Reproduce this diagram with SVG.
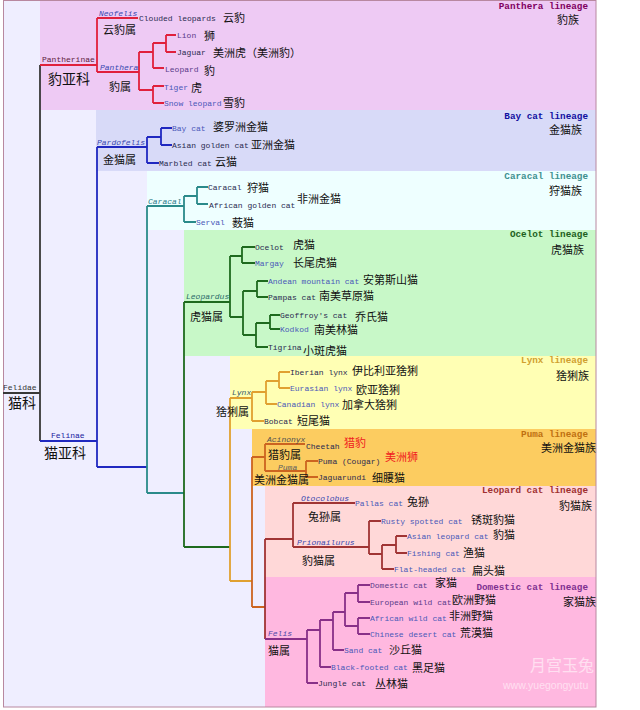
<svg xmlns="http://www.w3.org/2000/svg" width="640" height="710" viewBox="0 0 640 710">
<style>
.sp{font-family:"Liberation Mono",monospace;font-size:8px;fill:#2a2a50}
.b{fill:#4a58b8}
.pu{fill:#5a3a8a}
.gen{font-family:"Liberation Mono",monospace;font-size:8px;font-style:italic;fill:#3848b0}
.zh{font-family:"Noto Sans CJK SC",sans-serif;font-size:11px;fill:#111}
.zhL{font-family:"Noto Sans CJK SC",sans-serif;font-size:14px;fill:#111}
.red{fill:#f02020}
.lin{font-family:"Liberation Mono",monospace;font-size:9.3px;font-weight:bold;text-anchor:end}
.linz{font-family:"Noto Sans CJK SC",sans-serif;font-size:11px;fill:#111;text-anchor:end}
.c path{fill:none;stroke-width:1.8}
.k{stroke:#383838}.r{stroke:#e0203c}.bl{stroke:#2028c0}.t{stroke:#2a8a8a}.g{stroke:#1e6a1e}.o{stroke:#e0a030}.ob{stroke:#cc6420}.m{stroke:#a03434}.p{stroke:#883088}
</style>
<rect x="3" y="0" width="593" height="707" fill="#efeeff"/>
<g id="bands">
<rect x="40" y="0" width="556" height="110" fill="#eecaf4"/>
<rect x="96" y="110" width="500" height="61" fill="#d8daf8"/>
<rect x="147" y="171" width="449" height="59" fill="#eeffff"/>
<rect x="184" y="230" width="412" height="126" fill="#c8f8c8"/>
<rect x="230" y="356" width="366" height="73" fill="#ffffb4"/>
<rect x="252" y="429" width="344" height="57" fill="#fccc60"/>
<rect x="265" y="486" width="331" height="91" fill="#ffd8d8"/>
<rect x="265" y="577" width="331" height="130" fill="#ffb8e0"/>
</g>
<rect x="3.5" y="0.5" width="592.5" height="706.5" fill="none" stroke="#b888a0" stroke-width="1"/>
<g id="connectors" class="c">
<path class="k" d="M3,393H40M40,65V441"/>
<path class="r" d="M40,65H97M97,18V72M97,18H138M97,72H139M139,52V90M139,52H153M153,43V68M153,43H166M166,35V52M166,35H176M166,52H176M153,68H164M139,90H153M153,86V103M153,86H164M153,103H164"/>
<path class="bl" d="M40,441H97M97,147V467M97,147H147M147,137V163M147,137H161M161,128V145M161,128H172M161,145H172M147,163H159M97,467H147"/>
<path class="t" d="M147,206V493M147,206H184M184,196V222M184,196H197M197,187V204M197,187H208M197,204H208M184,222H196M147,493H184"/>
<path class="g" d="M184,302V547M184,302H230M230,256V317M230,256H242M242,247V263M242,247H255M242,263H255M230,317H243M243,291V335M243,291H257M257,281V297M257,281H268M257,297H268M243,335H256M256,323V347M256,323H270M270,315V329M270,315H280M270,329H280M256,347H268M184,547H230"/>
<path class="o" d="M230,398V581M230,398H252M252,392V421M252,392H266M266,381V404M266,381H279M279,372V388M279,372H290M279,388H290M266,404H277M252,421H264M230,581H252"/>
<path class="ob" d="M252,457V607M252,457H265M265,444V471M265,444H305M265,471H306M306,461V477M306,461H318M306,477H318M252,607H265"/>
<path class="m" d="M265,539V639M265,539H293M293,503V547M293,503H355M293,547H369M369,521V554M369,521H381M369,554H382M382,545V569M382,545H396M396,536V553M396,536H407M396,553H407M382,569H394"/>
<path class="p" d="M265,639H307M307,630V683M307,683H318M307,630H320M320,620V667M320,667H331M320,620H333M333,612V650M333,650H344M333,612H345M345,593V626M345,593H358M358,585V602M358,585H370M358,602H370M345,626H358M358,618V634M358,618H370M358,634H370"/>
</g>
<g id="felidae"><text class="sp" x="3" y="390" style="fill:#333">Felidae</text><text class="zhL" x="8" y="408">猫科</text></g>
<g id="pantherinae"><text class="sp" x="42" y="62" style="fill:#602040">Pantherinae</text><text class="zhL" x="48" y="84">豹亚科</text></g>
<g id="felinae"><text class="sp" x="51" y="438" style="fill:#2020a0">Felinae</text><text class="zhL" x="44" y="458">猫亚科</text></g>
<g id="lineages">
<text class="lin" x="588" y="9" fill="#800060">Panthera lineage</text><text class="linz" x="579" y="24">豹族</text>
<text class="lin" x="588" y="119" fill="#1010a0">Bay cat lineage</text><text class="linz" x="582" y="134">金猫族</text>
<text class="lin" x="588" y="179" fill="#409090">Caracal lineage</text><text class="linz" x="582" y="195">狩猫族</text>
<text class="lin" x="588" y="237" fill="#206020">Ocelot lineage</text><text class="linz" x="584" y="254">虎猫族</text>
<text class="lin" x="588" y="363" fill="#d0a030">Lynx lineage</text><text class="linz" x="589" y="380">猞猁族</text>
<text class="lin" x="588" y="437" fill="#c07010">Puma lineage</text><text class="linz" x="596" y="452">美洲金猫族</text>
<text class="lin" x="588" y="493" fill="#a03030">Leopard cat lineage</text><text class="linz" x="592" y="510">豹猫族</text>
<text class="lin" x="588" y="590" fill="#803090">Domestic cat lineage</text><text class="linz" x="596" y="606">家猫族</text>
</g>
<g id="genera">
<g id="neofelis"><text class="gen" x="99" y="16">Neofelis</text><text class="zh" x="103" y="34">云豹属</text></g>
<g id="panthera"><text class="gen" x="100" y="70">Panthera</text><text class="zh" x="109" y="91">豹属</text></g>
<g id="pardofelis"><text class="gen" x="97" y="145">Pardofelis</text><text class="zh" x="103" y="164">金猫属</text></g>
<g id="caracal"><text class="gen" x="148" y="204" style="fill:#2a7a8a">Caracal</text></g>
<g id="leopardus"><text class="gen" x="186" y="299" style="fill:#2a6a6a">Leopardus</text><text class="zh" x="190" y="321">虎猫属</text></g>
<g id="lynx"><text class="gen" x="232" y="395" style="fill:#3a5a6a">Lynx</text><text class="zh" x="216" y="416">猞猁属</text></g>
<g id="acinonyx"><text class="gen" x="267" y="442" style="fill:#505050">Acinonyx</text><text class="zh" x="268" y="459">猎豹属</text></g>
<g id="puma"><text class="gen" x="278" y="469.5" style="fill:#606060">Puma</text><text class="zh" x="254" y="483.5">美洲金猫属</text></g>
<g id="otocolobus"><text class="gen" x="301" y="501">Otocolobus</text><text class="zh" x="308" y="521">兔狲属</text></g>
<g id="prionailurus"><text class="gen" x="297" y="545">Prionailurus</text><text class="zh" x="302" y="565">豹猫属</text></g>
<g id="felis"><text class="gen" x="268" y="636" style="fill:#5048a8">Felis</text><text class="zh" x="268" y="655">猫属</text></g>
</g>
<g id="species">
<g id="clouded"><text class="sp" x="139" y="21">Clouded leopards</text><text class="zh" x="223" y="22">云豹</text></g>
<g id="lion"><text class="sp pu" x="177" y="38">Lion</text><text class="zh" x="204" y="40">狮</text></g>
<g id="jaguar"><text class="sp" x="177" y="55">Jaguar</text><text class="zh" x="213" y="57">美洲虎（美洲豹）</text></g>
<g id="leopard"><text class="sp pu" x="165" y="72">Leopard</text><text class="zh" x="204" y="75">豹</text></g>
<g id="tiger"><text class="sp b" x="164" y="90">Tiger</text><text class="zh" x="191" y="92">虎</text></g>
<g id="snowleopard"><text class="sp b" x="164" y="106">Snow leopard</text><text class="zh" x="223" y="107">雪豹</text></g>
<g id="baycat"><text class="sp b" x="172" y="131">Bay cat</text><text class="zh" x="213" y="131">婆罗洲金猫</text></g>
<g id="asiangolden"><text class="sp" x="172" y="148">Asian golden cat</text><text class="zh" x="251" y="149">亚洲金猫</text></g>
<g id="marbled"><text class="sp" x="159" y="166">Marbled cat</text><text class="zh" x="215" y="166">云猫</text></g>
<g id="caracalsp"><text class="sp" x="208" y="190">Caracal</text><text class="zh" x="247" y="192">狩猫</text></g>
<g id="africangolden"><text class="sp" x="209" y="208">African golden cat</text><text class="zh" x="297" y="203">非洲金猫</text></g>
<g id="serval"><text class="sp b" x="196" y="225">Serval</text><text class="zh" x="232" y="227">薮猫</text></g>
<g id="ocelot"><text class="sp" x="255" y="250">Ocelot</text><text class="zh" x="293" y="249">虎猫</text></g>
<g id="margay"><text class="sp b" x="255" y="266">Margay</text><text class="zh" x="293" y="267">长尾虎猫</text></g>
<g id="andean"><text class="sp b" x="268" y="284">Andean mountain cat</text><text class="zh" x="363" y="284">安第斯山猫</text></g>
<g id="pampas"><text class="sp" x="268" y="300">Pampas cat</text><text class="zh" x="319" y="300">南美草原猫</text></g>
<g id="geoffroy"><text class="sp" x="280" y="318">Geoffroy's cat</text><text class="zh" x="355" y="321">乔氏猫</text></g>
<g id="kodkod"><text class="sp b" x="280" y="332">Kodkod</text><text class="zh" x="314" y="334">南美林猫</text></g>
<g id="tigrina"><text class="sp" x="268" y="350">Tigrina</text><text class="zh" x="303" y="355">小斑虎猫</text></g>
<g id="iberian"><text class="sp" x="290" y="375">Iberian lynx</text><text class="zh" x="352" y="375">伊比利亚猞猁</text></g>
<g id="eurasian"><text class="sp b" x="290" y="391">Eurasian lynx</text><text class="zh" x="356" y="394">欧亚猞猁</text></g>
<g id="canadian"><text class="sp b" x="277" y="407">Canadian lynx</text><text class="zh" x="342" y="409">加拿大猞猁</text></g>
<g id="bobcat"><text class="sp" x="264" y="424">Bobcat</text><text class="zh" x="297" y="425">短尾猫</text></g>
<g id="cheetah"><text class="sp" x="306" y="449">Cheetah</text><text class="zh red" x="344" y="447">猎豹</text></g>
<g id="cougar"><text class="sp" x="318" y="464">Puma (Cougar)</text><text class="zh red" x="385" y="461">美洲狮</text></g>
<g id="jaguarundi"><text class="sp" x="318" y="480">Jaguarundi</text><text class="zh" x="372" y="482">细腰猫</text></g>
<g id="pallas"><text class="sp b" x="355" y="506">Pallas cat</text><text class="zh" x="407" y="506">兔狲</text></g>
<g id="rusty"><text class="sp b" x="381" y="524">Rusty spotted cat</text><text class="zh" x="471" y="524">锈斑豹猫</text></g>
<g id="asianleopard"><text class="sp b" x="407" y="539">Asian leopard cat</text><text class="zh" x="493" y="539">豹猫</text></g>
<g id="fishing"><text class="sp b" x="407" y="556">Fishing cat</text><text class="zh" x="463" y="557">渔猫</text></g>
<g id="flatheaded"><text class="sp b" x="394" y="572">Flat-headed cat</text><text class="zh" x="472" y="575">扁头猫</text></g>
<g id="domestic"><text class="sp pu" x="370" y="588">Domestic cat</text><text class="zh" x="435" y="587">家猫</text></g>
<g id="european"><text class="sp pu" x="370" y="605">European wild cat</text><text class="zh" x="452" y="604">欧洲野猫</text></g>
<g id="african"><text class="sp b" x="370" y="621">African wild cat</text><text class="zh" x="449" y="620">非洲野猫</text></g>
<g id="chinesedesert"><text class="sp b" x="370" y="637">Chinese desert cat</text><text class="zh" x="460" y="637">荒漠猫</text></g>
<g id="sand"><text class="sp b" x="344" y="653">Sand cat</text><text class="zh" x="389" y="654">沙丘猫</text></g>
<g id="blackfooted"><text class="sp b" x="331" y="670">Black-footed cat</text><text class="zh" x="412" y="672">黑足猫</text></g>
<g id="jungle"><text class="sp" x="318" y="686">Jungle cat</text><text class="zh" x="375" y="688">丛林猫</text></g>
</g>
<g id="watermark" opacity="0.55">
<text x="530" y="671" font-family="Noto Sans CJK SC,sans-serif" font-size="16" fill="#fff">月宫玉兔</text>
<text x="503" y="689" font-family="Liberation Sans,sans-serif" font-size="10.5" fill="#fff">www.yuegongyutu</text>
</g>
</svg>
